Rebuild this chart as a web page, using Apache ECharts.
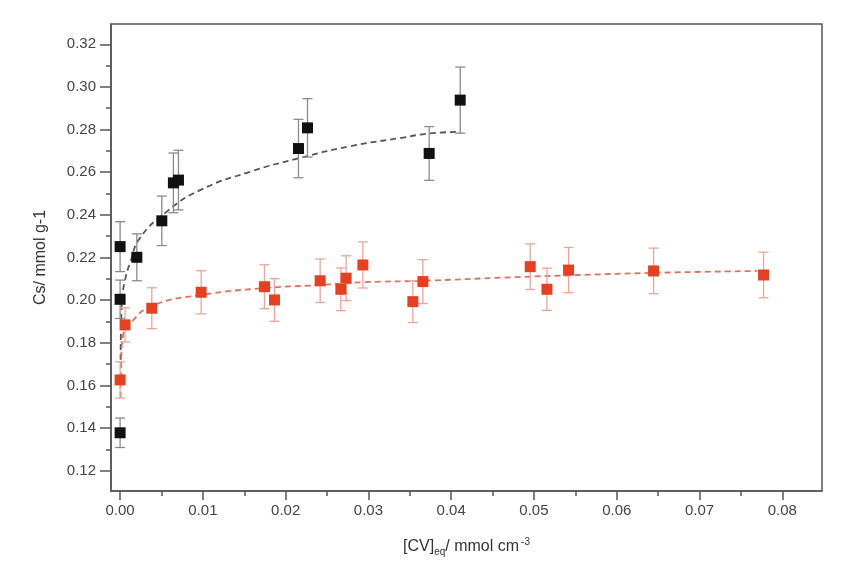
<!DOCTYPE html>
<html>
<head>
<meta charset="utf-8">
<script src="https://cdn.jsdelivr.net/npm/echarts@6/dist/echarts.min.js"></script>
<style>
  html, body { margin: 0; padding: 0; background: #fff; }
  #chart { width: 842px; height: 577px; }
</style>
</head>
<body>
<div id="chart"></div>
<script>
// measured points (black series)
const blackX = [0, 0, 0, 0.00202, 0.00504, 0.00644, 0.00705, 0.02155, 0.02264, 0.03734, 0.04109];
const blackY = [0.1378, 0.2251, 0.2004, 0.2201, 0.2372, 0.2550, 0.2563, 0.2711, 0.2808, 0.2688, 0.2938];
const blackErr = [0.0069, 0.0117, 0.0090, 0.0110, 0.0116, 0.0140, 0.0140, 0.0137, 0.0137, 0.0126, 0.0155];

// measured points (red series)
const redX = [0, 0.0006, 0.00383, 0.00979, 0.01744, 0.01865, 0.02417, 0.02667, 0.02731, 0.02933,
              0.03537, 0.03658, 0.04955, 0.05157, 0.05418, 0.06445, 0.07774];
const redY = [0.1626, 0.1884, 0.1962, 0.2037, 0.2063, 0.2001, 0.2091, 0.2051, 0.2103, 0.2165,
              0.1993, 0.2087, 0.2157, 0.2051, 0.2141, 0.2137, 0.2118];
const redErr = [0.0085, 0.0080, 0.0096, 0.0101, 0.0103, 0.0100, 0.0102, 0.0100, 0.0105, 0.0108,
                0.0098, 0.0103, 0.0107, 0.0099, 0.0106, 0.0107, 0.0107];

// dashed fit curves
const blackFitX = [0.00006, 0.0002, 0.0006, 0.0012, 0.0024, 0.00564, 0.00967, 0.0157, 0.02155, 0.0278, 0.0338, 0.03746, 0.04109];
const blackFitY = [0.172, 0.1987, 0.2095, 0.2174, 0.2291, 0.2415, 0.2516, 0.2602, 0.2665, 0.2722, 0.2760, 0.2782, 0.2789];
const redFitX = [0.00006, 0.00012, 0.00036, 0.0012, 0.00383, 0.00979, 0.01732, 0.02417, 0.0294, 0.03665, 0.04713, 0.05559, 0.06445, 0.07694];
const redFitY = [0.1542, 0.1697, 0.1837, 0.1890, 0.1973, 0.2024, 0.2056, 0.2071, 0.2084, 0.2091, 0.2107, 0.2118, 0.2128, 0.2137];

// ticks
const xTicks = [0, 0.01, 0.02, 0.03, 0.04, 0.05, 0.06, 0.07, 0.08];
const xMinorTicks = [0.005, 0.015, 0.025, 0.035, 0.045, 0.055, 0.065, 0.075];
const yTicks = [0.12, 0.14, 0.16, 0.18, 0.20, 0.22, 0.24, 0.26, 0.28, 0.30, 0.32];
const yMinorTicks = [0.11, 0.13, 0.15, 0.17, 0.19, 0.21, 0.23, 0.25, 0.27, 0.29, 0.31];

const zip = (a, b, c) => a.map((v, i) => c ? [v, b[i], c[i]] : [v, b[i]]);

function errorBars(color) {
    return function (params, api) {
        const x = api.value(0), y = api.value(1), e = api.value(2);
        const hi = api.coord([x, y + e]);
        const lo = api.coord([x, y - e]);
        const w = 5;
        const st = { stroke: color, lineWidth: 1.3 };
        return {
            type: 'group',
            children: [
                { type: 'line', shape: { x1: hi[0], y1: hi[1], x2: lo[0], y2: lo[1] }, style: st },
                { type: 'line', shape: { x1: hi[0] - w, y1: hi[1], x2: hi[0] + w, y2: hi[1] }, style: st },
                { type: 'line', shape: { x1: lo[0] - w, y1: lo[1], x2: lo[0] + w, y2: lo[1] }, style: st }
            ]
        };
    };
}

const font = 'Liberation Sans, Arial, sans-serif';
const xMin = -0.0011, xMax = 0.0848, yMin = 0.1105, yMax = 0.3295;
const axisCol = '#555';

const chart = echarts.init(document.getElementById('chart'));
chart.setOption({
    backgroundColor: '#fff',
    animation: false,
    grid: { left: 111, right: 20, top: 24, bottom: 86, show: true, borderColor: axisCol, borderWidth: 1.5 },
    xAxis: [{
        type: 'value', min: xMin, max: xMax,
        name: '{t|[CV]}{sub|eq}{t|/ mmol cm}{sup|-3}',
        nameLocation: 'middle', nameGap: 46,
        nameTextStyle: {
            rich: {
                t: { fontFamily: font, fontSize: 16, color: '#333' },
                sub: { fontFamily: font, fontSize: 10, color: '#333', verticalAlign: 'bottom', padding: [10, 0, 0, 0] },
                sup: { fontFamily: font, fontSize: 10, color: '#333', verticalAlign: 'top', padding: [0, 0, 10, 2] }
            }
        },
        splitLine: { show: false },
        axisLine: { onZero: false, lineStyle: { color: axisCol, width: 1.5 } },
        axisTick: { customValues: xTicks, length: 9, lineStyle: { color: axisCol, width: 1.5 } },
        axisLabel: {
            customValues: xTicks, margin: 12, fontFamily: font, fontSize: 15, color: '#444',
            formatter: v => v.toFixed(2)
        }
    }, {
        type: 'value', min: xMin, max: xMax, position: 'bottom',
        splitLine: { show: false },
        axisLine: { show: false, onZero: false },
        axisTick: { customValues: xMinorTicks, length: 5, lineStyle: { color: axisCol, width: 1.5 } },
        axisLabel: { show: false }
    }],
    yAxis: [{
        type: 'value', min: yMin, max: yMax,
        name: 'Cs/ mmol g-1', nameLocation: 'middle', nameGap: 62,
        nameTextStyle: { fontFamily: font, fontSize: 16, color: '#333' },
        splitLine: { show: false },
        axisLine: { onZero: false, lineStyle: { color: axisCol, width: 1.5 } },
        axisTick: { customValues: yTicks, length: 11, lineStyle: { color: axisCol, width: 1.5 } },
        axisLabel: {
            customValues: yTicks, margin: 15, fontFamily: font, fontSize: 15, color: '#444',
            formatter: v => v.toFixed(2)
        }
    }, {
        type: 'value', min: yMin, max: yMax, position: 'left',
        splitLine: { show: false },
        axisLine: { show: false, onZero: false },
        axisTick: { customValues: yMinorTicks, length: 5, lineStyle: { color: axisCol, width: 1.5 } },
        axisLabel: { show: false }
    }],
    series: [
        {
            type: 'line', data: zip(blackFitX, blackFitY), smooth: true, showSymbol: false, z: 2,
            lineStyle: { color: '#555', width: 1.8, type: [6, 4] }
        },
        {
            type: 'line', data: zip(redFitX, redFitY), smooth: true, showSymbol: false, z: 2,
            lineStyle: { color: '#e2705f', width: 1.8, type: [6, 4] }
        },
        {
            type: 'custom', data: zip(blackX, blackY, blackErr), renderItem: errorBars('#8a8a8a'),
            encode: { x: 0, y: 1 }, z: 3
        },
        {
            type: 'custom', data: zip(redX, redY, redErr), renderItem: errorBars('#f0a394'),
            encode: { x: 0, y: 1 }, z: 3
        },
        {
            type: 'scatter', data: zip(blackX, blackY), symbol: 'rect', symbolSize: 11, z: 4,
            itemStyle: { color: '#111', opacity: 1 }
        },
        {
            type: 'scatter', data: zip(redX, redY), symbol: 'rect', symbolSize: 11, z: 4,
            itemStyle: { color: '#e5401f', opacity: 1 }
        }
    ]
});
</script>
</body>
</html>
